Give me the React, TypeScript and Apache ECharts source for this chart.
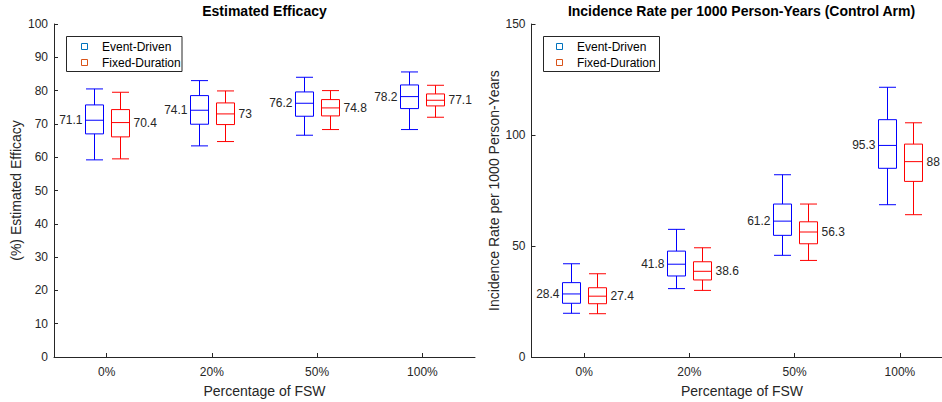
import React, { useEffect, useRef } from "react";
import * as echarts from "echarts";

// Category tick labels
const categories = ["0%", "20%", "50%", "100%"];

// Each entry: [lower whisker, Q1, median, Q3, upper whisker]
const efficacyEventDriven = [
  [59.2, 67.0, 71.1, 75.7, 80.5],
  [63.4, 69.9, 74.1, 78.5, 83.0],
  [66.6, 72.3, 76.2, 79.6, 84.0],
  [68.3, 74.6, 78.2, 81.7, 85.6],
];
const efficacyFixedDuration = [
  [59.5, 66.1, 70.4, 74.3, 79.5],
  [64.7, 69.8, 73, 76.3, 79.9],
  [68.3, 72.4, 74.8, 77.3, 80.0],
  [72.0, 75.4, 77.1, 79.0, 81.6],
];
const incidenceEventDriven = [
  [19.7, 24.2, 28.4, 33.5, 42.0],
  [30.8, 36.5, 41.8, 47.7, 57.5],
  [45.8, 54.8, 61.2, 68.9, 82.1],
  [68.6, 85.0, 95.3, 106.9, 121.5],
];
const incidenceFixedDuration = [
  [19.5, 24.0, 27.4, 31.2, 37.5],
  [30.0, 34.7, 38.6, 42.9, 49.2],
  [43.5, 51.0, 56.3, 60.9, 68.9],
  [64.1, 79.1, 88, 95.9, 105.5],
];

const seriesNames = ["Event-Driven", "Fixed-Duration"];
const legendColors = ["#0072BD", "#D95319"];

const FONT = '"Liberation Sans", Arial, Helvetica, sans-serif';
const AXIS_COLOR = "#262626";
const BLUE = "#0000ff";
const RED = "#ff0000";
const BOX_W = 18;
const CAP_W = 17;

function makeRender(offset: number, color: string, side: "left" | "right") {
  return (params: any, api: any) => {
    const cat = api.value(0);
    const lo = api.value(1);
    const q1 = api.value(2);
    const med = api.value(3);
    const q3 = api.value(4);
    const hi = api.value(5);
    const x = Math.round(api.coord([cat, med])[0] + offset) + 0.5;
    const yLo = api.coord([cat, lo])[1];
    const yQ1 = api.coord([cat, q1])[1];
    const yMed = api.coord([cat, med])[1];
    const yQ3 = api.coord([cat, q3])[1];
    const yHi = api.coord([cat, hi])[1];
    const hw = BOX_W / 2;
    const cw = CAP_W / 2;
    const st = { stroke: color, lineWidth: 1, fill: "none" };
    return {
      type: "group",
      children: [
        { type: "line", shape: { x1: x, y1: yHi, x2: x, y2: yQ3 }, style: st },
        { type: "line", shape: { x1: x, y1: yQ1, x2: x, y2: yLo }, style: st },
        { type: "line", shape: { x1: x - cw, y1: yHi, x2: x + cw, y2: yHi }, style: st },
        { type: "line", shape: { x1: x - cw, y1: yLo, x2: x + cw, y2: yLo }, style: st },
        { type: "rect", shape: { x: x - hw, y: yQ3, width: BOX_W, height: yQ1 - yQ3 }, style: st },
        { type: "line", shape: { x1: x - hw, y1: yMed, x2: x + hw, y2: yMed }, style: st },
        {
          type: "text",
          style: {
            text: String(med),
            x: side === "left" ? x - hw - 3 : x + hw + 4,
            y: yMed,
            align: side === "left" ? "right" : "left",
            verticalAlign: "middle",
            fill: AXIS_COLOR,
            font: `12px ${FONT}`,
          },
        },
      ],
    };
  };
}

function toData(rows: number[][]) {
  return rows.map((r, i) => [i, ...r]);
}

function legendGraphic(key: string, boxX: number, boxW: number, iconX: number, textX: number) {
  const rowY = [46.5, 63];
  return {
    type: "group",
    id: `legend-${key}`,
    z: 10,
    children: [
      {
        type: "rect",
        id: `legend-${key}-box`,
        shape: { x: boxX, y: 36.5, width: boxW, height: 35 },
        style: { fill: "#ffffff", stroke: AXIS_COLOR, lineWidth: 1 },
        z: 10,
      },
      ...seriesNames.flatMap((name, i) => [
        {
          type: "rect",
          id: `legend-${key}-icon-${i}`,
          shape: { x: iconX - 3, y: Math.round(rowY[i]) - 3.5, width: 6, height: 6 },
          style: { fill: "#ffffff", stroke: legendColors[i], lineWidth: 1 },
          z: 12,
        },
        {
          type: "text",
          id: `legend-${key}-text-${i}`,
          style: {
            text: name,
            x: textX,
            y: rowY[i],
            verticalAlign: "middle",
            fill: "#000000",
            font: `12px ${FONT}`,
          },
          z: 12,
        },
      ]),
    ],
  };
}

export default function App() {
  const ref = useRef<HTMLDivElement>(null);
  useEffect(() => {
    if (!ref.current) return;
    const chart = echarts.init(ref.current, undefined, { renderer: "svg" });
    const axisCommon = {
      axisLine: { show: true, lineStyle: { color: AXIS_COLOR, width: 1 } },
      axisTick: { show: true, inside: true, length: 4, lineStyle: { color: AXIS_COLOR } },
      splitLine: { show: false },
    };
    const xAxis = (gridIndex: number) => ({
      type: "category",
      gridIndex,
      data: categories,
      boundaryGap: true,
      ...axisCommon,
      axisTick: { ...axisCommon.axisTick, alignWithLabel: true },
      axisLabel: { color: AXIS_COLOR, fontSize: 12, fontFamily: FONT, margin: 9 },
      name: "Percentage of FSW",
      nameLocation: "middle",
      nameGap: 27,
      nameTextStyle: { color: AXIS_COLOR, fontSize: 14, fontFamily: FONT },
    });
    const option: any = {
      animation: false,
      backgroundColor: "#ffffff",
      title: [
        {
          text: "Estimated Efficacy",
          left: 264.5,
          top: 4,
          textAlign: "center",
          padding: 0,
          textStyle: { fontSize: 14, fontWeight: "bold", color: "#000000", fontFamily: FONT },
        },
        {
          text: "Incidence Rate per 1000 Person-Years (Control Arm)",
          left: 741.5,
          top: 4,
          textAlign: "center",
          padding: 0,
          textStyle: { fontSize: 14, fontWeight: "bold", color: "#000000", fontFamily: FONT },
        },
      ],
      grid: [
        { left: 54, top: 24, width: 421, height: 333, outerBoundsMode: "none", containLabel: false },
        { left: 531.5, top: 24, width: 421, height: 333, outerBoundsMode: "none", containLabel: false },
      ],
      xAxis: [xAxis(0), xAxis(1)],
      yAxis: [
        {
          type: "value",
          gridIndex: 0,
          min: 0,
          max: 100,
          interval: 10,
          ...axisCommon,
          axisLabel: { color: AXIS_COLOR, fontSize: 12, fontFamily: FONT, margin: 6 },
          name: "(%) Estimated Efficacy",
          nameLocation: "middle",
          nameGap: 31,
          nameTextStyle: { color: AXIS_COLOR, fontSize: 14, fontFamily: FONT },
        },
        {
          type: "value",
          gridIndex: 1,
          min: 0,
          max: 150,
          interval: 50,
          ...axisCommon,
          axisLabel: { color: AXIS_COLOR, fontSize: 12, fontFamily: FONT, margin: 6 },
          name: "Incidence Rate per 1000 Person-Years",
          nameLocation: "middle",
          nameGap: 31,
          nameTextStyle: { color: AXIS_COLOR, fontSize: 14, fontFamily: FONT },
        },
      ],
      series: [
        {
          type: "custom",
          name: seriesNames[0],
          xAxisIndex: 0,
          yAxisIndex: 0,
          renderItem: makeRender(-13, BLUE, "left"),
          encode: { x: 0, y: [1, 2, 3, 4, 5] },
          data: toData(efficacyEventDriven),
        },
        {
          type: "custom",
          name: seriesNames[1],
          xAxisIndex: 0,
          yAxisIndex: 0,
          renderItem: makeRender(13, RED, "right"),
          encode: { x: 0, y: [1, 2, 3, 4, 5] },
          data: toData(efficacyFixedDuration),
        },
        {
          type: "custom",
          name: seriesNames[0],
          xAxisIndex: 1,
          yAxisIndex: 1,
          renderItem: makeRender(-13, BLUE, "left"),
          encode: { x: 0, y: [1, 2, 3, 4, 5] },
          data: toData(incidenceEventDriven),
        },
        {
          type: "custom",
          name: seriesNames[1],
          xAxisIndex: 1,
          yAxisIndex: 1,
          renderItem: makeRender(13, RED, "right"),
          encode: { x: 0, y: [1, 2, 3, 4, 5] },
          data: toData(incidenceFixedDuration),
        },
      ],
      graphic: [
        legendGraphic("left", 66.5, 115.5, 84.5, 102),
        legendGraphic("right", 543.5, 116, 559.5, 577),
      ],
    };
    chart.setOption(option);
    return () => chart.dispose();
  }, []);
  return (
    <div
      ref={ref}
      style={{ position: "absolute", left: 0, top: 0, width: 942, height: 402, background: "#fff" }}
    />
  );
}
